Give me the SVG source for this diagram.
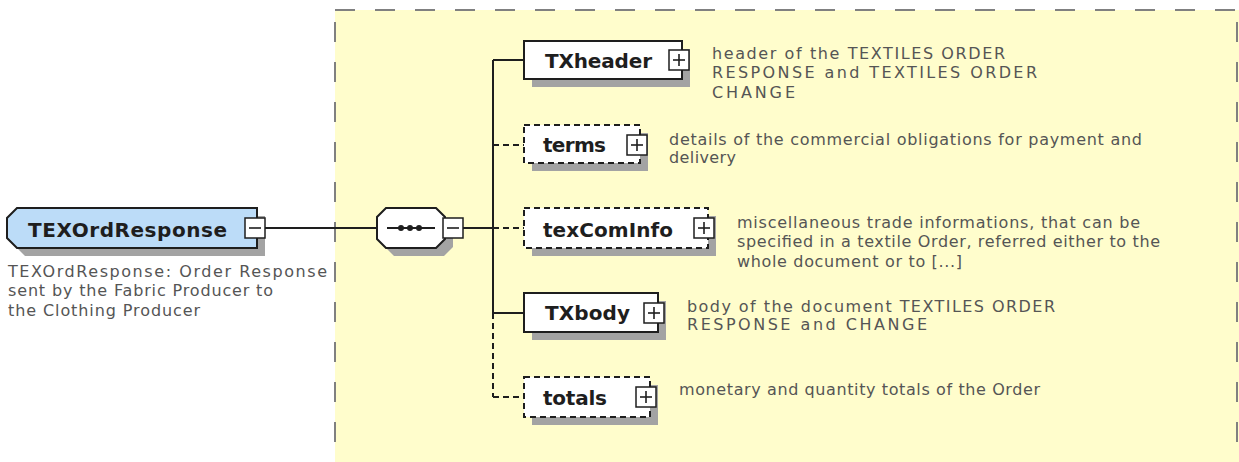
<svg xmlns="http://www.w3.org/2000/svg" width="1239" height="462" viewBox="0 0 1239 462">
<style>
.bg{fill:#ffffff}
.area{fill:#fffdcc}
.areaedge{stroke:#808080;stroke-width:2;stroke-dasharray:20 20;fill:none}
.shadow{fill:#a3a3a3;stroke:none}
.box{fill:#ffffff;stroke:#1e1e1e;stroke-width:2}
.opt{fill:#ffffff;stroke:#1e1e1e;stroke-width:2;stroke-dasharray:6 4}
.root{fill:#bcdcf8;stroke:#1e1e1e;stroke-width:2}
.pm{fill:#ffffff;stroke:#1e1e1e;stroke-width:1.5}
.pmline{stroke:#1e1e1e;stroke-width:1.6}
.lbl{font-family:"DejaVu Sans",Verdana,sans-serif;font-weight:bold;font-size:20px;fill:#1e1e1e}
.desc{font-family:"DejaVu Sans",Verdana,sans-serif;font-size:16px;fill:#555555}
.con{stroke:#1e1e1e;stroke-width:2;fill:none}
.dcon{stroke:#1e1e1e;stroke-width:2;fill:none;stroke-dasharray:6 4}
</style>
<rect class="bg" x="0" y="0" width="1239" height="462"/>
<g id="content-area">
<rect class="area" x="335" y="10" width="904" height="452"/>
<line class="areaedge" x1="335" y1="10" x2="1239" y2="10"/>
<line class="areaedge" x1="335" y1="22" x2="335" y2="462"/>
<line class="areaedge" x1="1237" y1="22" x2="1237" y2="462"/>
</g>
<g id="connectors">
<line class="con" x1="265" y1="228" x2="377" y2="228"/>
<line class="con" x1="463" y1="228" x2="493" y2="228"/>
<line class="con" x1="493" y1="60" x2="493" y2="313"/>
<line class="dcon" x1="493" y1="313" x2="493" y2="397"/>
<line class="con" x1="493" y1="60" x2="524" y2="60"/>
<line class="dcon" x1="493" y1="145" x2="524" y2="145"/>
<line class="dcon" x1="493" y1="228" x2="524" y2="228"/>
<line class="con" x1="493" y1="313" x2="524" y2="313"/>
<line class="dcon" x1="493" y1="397" x2="524" y2="397"/>
</g>
<g id="TEXOrdResponse">
<polygon class="shadow" points="25,216 265,216 265,256 25,256 15,246 15,226"/>
<polygon class="root" points="17,208 257,208 257,248 17,248 7,238 7,218"/>
<text class="lbl" x="28" y="237" textLength="199">TEXOrdResponse</text>
<rect class="pm" x="245" y="218" width="20" height="20"/>
<line class="pmline" x1="249" y1="228" x2="261" y2="228"/>
<text class="desc" x="8" y="277" textLength="319">TEXOrdResponse: Order Response</text>
<text class="desc" x="8" y="296" textLength="265">sent by the Fabric Producer to</text>
<text class="desc" x="8" y="316" textLength="192">the Clothing Producer</text>
</g>
<g id="sequence">
<polygon class="shadow" points="394,216 444,216 453,225 453,247 444,256 394,256 385,247 385,225"/>
<polygon class="box" points="386,208 436,208 445,217 445,239 436,248 386,248 377,239 377,217"/>
<line class="con" x1="387" y1="228" x2="435" y2="228"/>
<circle cx="401" cy="228" r="3" fill="#1e1e1e"/>
<circle cx="410" cy="228" r="3" fill="#1e1e1e"/>
<circle cx="419" cy="228" r="3" fill="#1e1e1e"/>
<rect class="pm" x="443" y="218" width="20" height="20"/>
<line class="pmline" x1="447" y1="228" x2="459" y2="228"/>
</g>
<g id="TXheader">
<rect class="shadow" x="532" y="49" width="158" height="38"/>
<rect class="box" x="524" y="41" width="158" height="38"/>
<text class="lbl" x="545" y="68" textLength="107">TXheader</text>
<rect class="pm" x="669" y="50" width="20" height="20"/>
<line class="pmline" x1="673" y1="60" x2="685" y2="60"/>
<line class="pmline" x1="679" y1="54" x2="679" y2="66"/>
<text class="desc" x="712" y="59" textLength="293">header of the TEXTILES ORDER</text>
<text class="desc" x="712" y="78" textLength="325">RESPONSE and TEXTILES ORDER</text>
<text class="desc" x="712" y="98" textLength="83">CHANGE</text>
</g>
<g id="terms">
<rect class="shadow" x="532" y="133" width="116" height="38"/>
<rect class="opt" x="524" y="125" width="116" height="38"/>
<text class="lbl" x="543" y="152" textLength="63">terms</text>
<rect class="pm" x="627" y="135" width="20" height="20"/>
<line class="pmline" x1="631" y1="145" x2="643" y2="145"/>
<line class="pmline" x1="637" y1="139" x2="637" y2="151"/>
<text class="desc" x="669" y="145" textLength="473">details of the commercial obligations for payment and</text>
<text class="desc" x="669" y="163" textLength="67">delivery</text>
</g>
<g id="texComInfo">
<rect class="shadow" x="532" y="216" width="184" height="40"/>
<rect class="opt" x="524" y="208" width="184" height="40"/>
<text class="lbl" x="543" y="237" textLength="130">texComInfo</text>
<rect class="pm" x="694" y="218" width="20" height="20"/>
<line class="pmline" x1="698" y1="228" x2="710" y2="228"/>
<line class="pmline" x1="704" y1="222" x2="704" y2="234"/>
<text class="desc" x="737" y="228" textLength="403">miscellaneous trade informations, that can be</text>
<text class="desc" x="737" y="247" textLength="423">specified in a textile Order, referred either to the</text>
<text class="desc" x="737" y="267" textLength="225">whole document or to [...]</text>
</g>
<g id="TXbody">
<rect class="shadow" x="532" y="301" width="134" height="39"/>
<rect class="box" x="524" y="293" width="134" height="39"/>
<text class="lbl" x="545" y="320" textLength="85">TXbody</text>
<rect class="pm" x="644" y="303" width="20" height="20"/>
<line class="pmline" x1="648" y1="313" x2="660" y2="313"/>
<line class="pmline" x1="654" y1="307" x2="654" y2="319"/>
<text class="desc" x="687" y="312" textLength="368">body of the document TEXTILES ORDER</text>
<text class="desc" x="687" y="330" textLength="240">RESPONSE and CHANGE</text>
</g>
<g id="totals">
<rect class="shadow" x="532" y="385" width="126" height="40"/>
<rect class="opt" x="524" y="377" width="126" height="40"/>
<text class="lbl" x="543" y="405" textLength="64">totals</text>
<rect class="pm" x="636" y="387" width="20" height="20"/>
<line class="pmline" x1="640" y1="397" x2="652" y2="397"/>
<line class="pmline" x1="646" y1="391" x2="646" y2="403"/>
<text class="desc" x="679" y="395" textLength="361">monetary and quantity totals of the Order</text>
</g>
</svg>
